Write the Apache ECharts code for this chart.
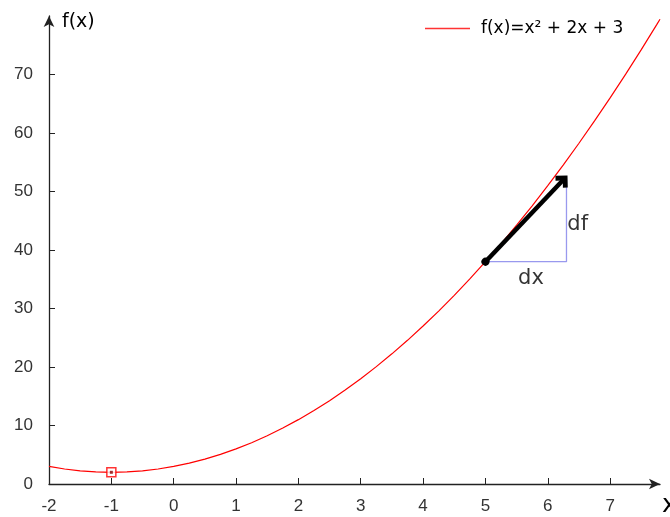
<!DOCTYPE html>
<html>
<head>
<meta charset="utf-8">
<script src="https://cdn.jsdelivr.net/npm/echarts@6/dist/echarts.min.js"></script>
<style>
html,body{margin:0;padding:0;background:#fff;}
#chart{width:670px;height:517px;}
</style>
</head>
<body>
<div id="chart"></div>
<script>
// ---- data ----
var curveName = 'f(x)=x\u00b2 + 2x + 3';
var curveX = [-2, -1.75, -1.5, -1.25, -1, -0.75, -0.5, -0.25, 0, 0.25, 0.5, 0.75, 1, 1.25, 1.5, 1.75, 2, 2.25, 2.5, 2.75, 3, 3.25, 3.5, 3.75, 4, 4.25, 4.5, 4.75, 5, 5.25, 5.5, 5.75, 6, 6.25, 6.5, 6.75, 7, 7.25, 7.5, 7.75, 7.8];
var curveY = [3, 2.56, 2.25, 2.06, 2, 2.06, 2.25, 2.56, 3, 3.56, 4.25, 5.06, 6, 7.06, 8.25, 9.56, 11, 12.56, 14.25, 16.06, 18, 20.06, 22.25, 24.56, 27, 29.56, 32.25, 35.06, 38, 41.06, 44.25, 47.56, 51, 54.56, 58.25, 62.06, 66, 70.06, 74.25, 78.56, 79.44];
var minPoint = [-1, 2];
var arrowStart = [5, 38];
var arrowEnd = [6.25, 52];
var triangle = [[5, 38], [6.3, 38], [6.3, 52]];
var annotations = [[6.48, 44.3, 'df'], [5.73, 35.2, 'dx']];
var xTicks = [-2, -1, 0, 1, 2, 3, 4, 5, 6, 7];
var yTicks = [0, 10, 20, 30, 40, 50, 60, 70];
var xRange = [-2, 7.8];
var yRange = [0, 80];
var xName = 'x';
var yName = 'f(x)';

var curveData = curveX.map(function (x, i) { return [x, curveY[i]]; });

var chart = echarts.init(document.getElementById('chart'), null, {renderer: 'canvas'});
var axisColor = '#222';
var tickFont = {fontFamily: 'Liberation Sans', fontSize: 17, color: '#333'};
var chevron = 'path://M8,0 L15,7 L12.17,9.83 L8,5.66 L3.83,9.83 L1,7 Z';

chart.setOption({
  animation: false,
  backgroundColor: '#fff',
  grid: {left: 49, right: 10, top: 16, bottom: 33, containLabel: false, outerBoundsMode: 'none'},
  legend: {
    data: [{name: curveName, icon: 'rect'}],
    left: 420, top: 15,
    itemWidth: 45, itemHeight: 1.5,
    itemStyle: {color: '#ff3333'},
    textStyle: {fontFamily: 'DejaVu Sans', fontSize: 17, color: '#000', padding: [0, 0, 0, 6]}
  },
  xAxis: {
    type: 'value', min: xRange[0], max: xRange[1],
    name: xName, nameLocation: 'end', nameGap: 2,
    nameTextStyle: {fontFamily: 'DejaVu Sans', fontSize: 25, color: '#000', align: 'left', verticalAlign: 'top', padding: [9, 0, 0, 0]},
    axisLine: {show: true, onZero: false, symbol: ['none', 'arrow'], symbolSize: [8, 11], lineStyle: {color: axisColor, width: 1.3}},
    axisTick: {show: true, inside: true, length: 6, customValues: xTicks, lineStyle: {color: axisColor}},
    axisLabel: Object.assign({customValues: xTicks, margin: 14}, tickFont),
    splitLine: {show: false}
  },
  yAxis: {
    type: 'value', min: yRange[0], max: yRange[1],
    name: yName, nameLocation: 'end', nameGap: -6,
    nameTextStyle: {fontFamily: 'DejaVu Sans', fontSize: 19, color: '#000', align: 'left', verticalAlign: 'middle', padding: [0, 0, 0, 13]},
    axisLine: {show: true, onZero: false, symbol: ['none', 'arrow'], symbolSize: [8, 11], lineStyle: {color: axisColor, width: 1.3}},
    axisTick: {show: true, inside: true, length: 6, customValues: yTicks, lineStyle: {color: axisColor}},
    axisLabel: Object.assign({customValues: yTicks, margin: 16}, tickFont),
    splitLine: {show: false}
  },
  series: [
    {
      name: curveName, type: 'line', data: curveData,
      symbol: 'none', showSymbol: false, smooth: false,
      lineStyle: {color: '#ff0000', width: 1.2}, itemStyle: {color: '#ff0000'},
      z: 2
    },
    {
      name: 'triangle', type: 'line', data: triangle,
      symbol: 'none', lineStyle: {color: '#9999ee', width: 1.3}, z: 3
    },
    {
      name: 'arrow', type: 'lines', coordinateSystem: 'cartesian2d',
      data: [{coords: [arrowStart, arrowEnd]}],
      symbol: ['circle', chevron], symbolSize: [[8, 8], [17, 12]],
      lineStyle: {color: '#000', width: 4.5, opacity: 1, curveness: 0},
      z: 5
    },
    {
      name: 'minOuter', type: 'scatter', data: [minPoint],
      symbol: 'rect', symbolSize: 9,
      itemStyle: {color: '#ffffff', borderColor: '#ff0000', borderWidth: 1.5}, z: 6
    },
    {
      name: 'minInner', type: 'scatter', data: [minPoint],
      symbol: 'rect', symbolSize: 3,
      itemStyle: {color: '#880000'}, z: 7
    },
    {
      name: 'labels', type: 'scatter',
      data: annotations.map(function (a) { return {value: [a[0], a[1]], name: a[2]}; }),
      symbolSize: 0,
      label: {show: true, position: 'inside', formatter: '{b}', fontFamily: 'DejaVu Sans', fontSize: 21, color: '#000', textBorderWidth: 0},
      z: 8
    }
  ]
});
</script>
</body>
</html>
